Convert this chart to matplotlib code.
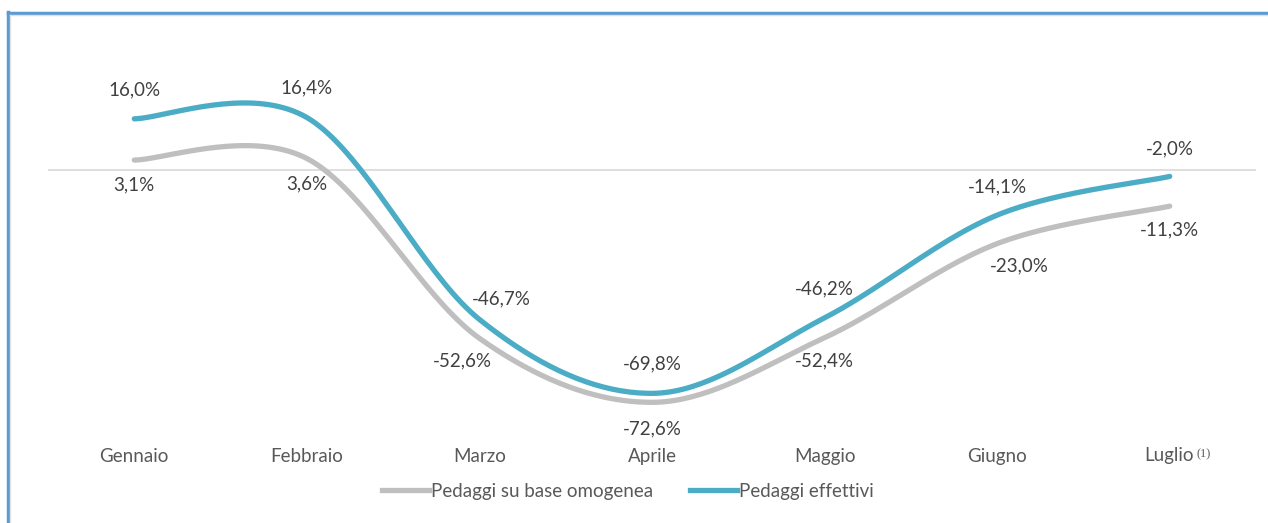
import matplotlib.pyplot as plt
import numpy as np
from matplotlib.lines import Line2D
from matplotlib.transforms import blended_transform_factory

# values
months = ["Gennaio", "Febbraio", "Marzo", "Aprile", "Maggio", "Giugno", "Luglio"]
base_omogenea = [3.1, 3.6, -52.6, -72.6, -52.4, -23.0, -11.3]
effettivi = [16.0, 16.4, -46.7, -69.8, -46.2, -14.1, -2.0]
base_labels = ["3,1%", "3,6%", "-52,6%", "-72,6%", "-52,4%", "-23,0%", "-11,3%"]
eff_labels = ["16,0%", "16,4%", "-46,7%", "-69,8%", "-46,2%", "-14,1%", "-2,0%"]

GRAY = "#BFBFBF"
TEAL = "#4BACC6"
TEXT = "#404040"
AXTXT = "#595959"
FONT = ["Lato", "DejaVu Sans"]
FS = 13.5

W, H = 1268, 523


def smooth(xs, ys, n=40):
    """Excel-like smoothed line: Catmull-Rom tangents turned into cubic Beziers."""
    pts = np.column_stack([xs, ys]).astype(float)
    ext = np.vstack([pts[0], pts, pts[-1]])
    out = [pts[0]]
    t = np.linspace(0, 1, n)[1:, None]
    for i in range(len(pts) - 1):
        p0, p1, p2, p3 = ext[i], ext[i + 1], ext[i + 2], ext[i + 3]
        c1 = p1 + (p2 - p0) / 6
        c2 = p2 - (p3 - p1) / 6
        seg = ((1 - t) ** 3) * p1 + 3 * ((1 - t) ** 2) * t * c1 \
            + 3 * (1 - t) * t ** 2 * c2 + t ** 3 * p2
        out.extend(seg)
    out = np.array(out)
    return out[:, 0], out[:, 1]


fig = plt.figure(figsize=(W / 100, H / 100), dpi=100)

# axes placed in pixel terms: x from 48 to 1256, y from 30 to 440
top_px, bot_px, zero_px, px_per = 30, 440, 170, 3.2
ax = fig.add_axes([48 / W, 1 - bot_px / H, (1256 - 48) / W, (bot_px - top_px) / H])
ax.set_xlim(-0.5, 6.5)
ax.set_ylim(-(bot_px - zero_px) / px_per, (zero_px - top_px) / px_per)

x = np.arange(len(months))
ax.axhline(0, color="#D9D9D9", lw=1.2, zorder=1)

gx, gy = smooth(x, base_omogenea)
tx, ty = smooth(x, effettivi)
ax.plot(gx, gy, color=GRAY, lw=3.8, solid_capstyle="round", zorder=2)
ax.plot(tx, ty, color=TEAL, lw=3.8, solid_capstyle="round", zorder=3)

# data labels (offsets in points)
eff_off = [(0, 21), (0, 21), (16, 15), (0, 21), (0, 21), (0, 20), (0, 20)]
base_off = [(0, -18), (0, -18), (-12, -16), (0, -19), (0, -17), (16, -16), (0, -17)]
for i in range(len(months)):
    ax.annotate(eff_labels[i], (x[i], effettivi[i]), xytext=eff_off[i],
                textcoords="offset points", ha="center", va="center",
                fontsize=FS, color=TEXT, family=FONT)
    ax.annotate(base_labels[i], (x[i], base_omogenea[i]), xytext=base_off[i],
                textcoords="offset points", ha="center", va="center",
                fontsize=FS, color=TEXT, family=FONT)

for s in ax.spines.values():
    s.set_visible(False)
ax.set_yticks([])
ax.set_xticks(x)
ax.set_xticklabels(months[:-1] + [""], fontsize=FS, color=AXTXT, family=FONT)
ax.tick_params(axis="x", length=0, pad=6)

# Luglio with its footnote marker
trans = blended_transform_factory(ax.transData, ax.transAxes)
ax.annotate(months[-1], (x[-1], 0), xycoords=trans, xytext=(17, -11.5),
            textcoords="offset points", ha="right", va="center",
            fontsize=FS, color=AXTXT, family=FONT)
ax.annotate("(1)", (x[-1], 0), xycoords=trans, xytext=(19, -10),
            textcoords="offset points", ha="left", va="center",
            fontsize=9, color=AXTXT, family="Liberation Serif")

handles = [Line2D([], [], color=GRAY, lw=3.8),
           Line2D([], [], color=TEAL, lw=3.8)]
leg = fig.legend(handles, ["Pedaggi su base omogenea", "Pedaggi effettivi"],
                 loc="center", bbox_to_anchor=(628 / W, 1 - 491 / H), ncol=2,
                 frameon=False, handlelength=2.5, handletextpad=0.1,
                 columnspacing=2.0, prop={"family": FONT, "size": FS})
for t in leg.get_texts():
    t.set_color(AXTXT)

# outer frame: blue left and top edge with a faint inner line
fig.add_artist(Line2D([7.5 / W, 7.5 / W], [0, 1 - 12 / H], color="#5B9BD5", lw=2.5))
fig.add_artist(Line2D([7.5 / W, 1], [1 - 12.5 / H, 1 - 12.5 / H], color="#5B9BD5", lw=2.5))
fig.add_artist(Line2D([10 / W, 1], [1 - 15 / H, 1 - 15 / H], color="#E0E0E0", lw=1))
fig.add_artist(Line2D([10 / W, 10 / W], [0, 1 - 15 / H], color="#E0E0E0", lw=1))

fig.savefig("out.png", dpi=100)
